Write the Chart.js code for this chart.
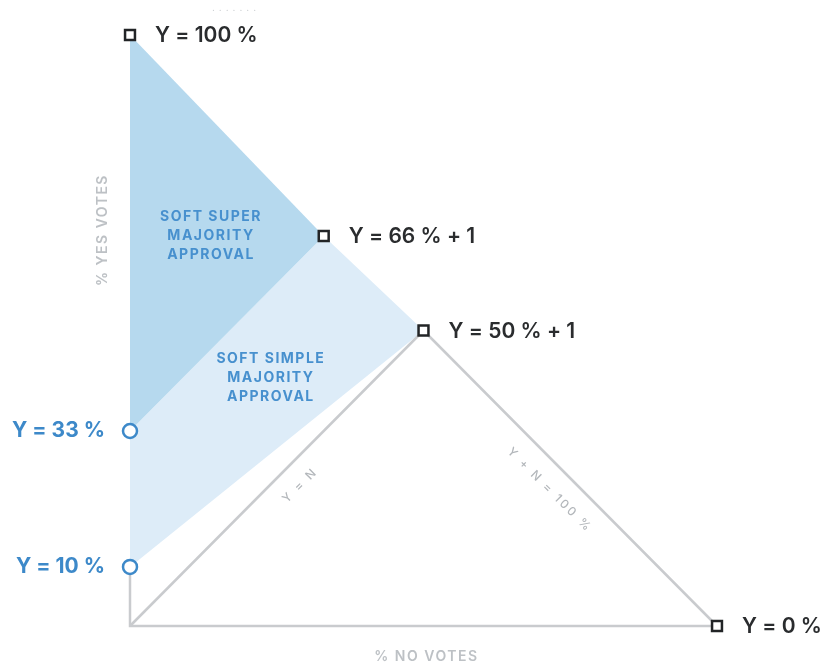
<!DOCTYPE html>
<html>
<head>
<meta charset="utf-8">
<script src="https://cdn.jsdelivr.net/npm/chart.js@4"></script>
<style>
  html, body { margin: 0; padding: 0; background: #fff; }
  #wrap { width: 823px; height: 664px; }
</style>
</head>
<body>
<div id="wrap"><canvas id="voteChart" width="823" height="664"></canvas></div>
<script>
// Threshold points on the Y + N = 100 % line
const thresholdLabels = ['Y = 100 %', 'Y = 66 % + 1', 'Y = 50 % + 1', 'Y = 0 %'];
const thresholdNo = [0, 33, 50, 100];
const thresholdYes = [100, 66, 50, 0];

// Quorum points on the Yes axis
const quorumLabels = ['Y = 33 %', 'Y = 10 %'];
const quorumNo = [0, 0];
const quorumYes = [33, 10];

// Shaded regions
const superRegionNo = [0, 33, 0];
const superRegionYes = [100, 66, 33];
const simpleRegionNo = [0, 33, 50, 0];
const simpleRegionYes = [33, 66, 50, 10];

// Guide lines
const equalLineNo = [0, 50];
const equalLineYes = [0, 50];
const totalLineNo = [50, 100];
const totalLineYes = [50, 0];
const axisLineNo = [0, 0, 100];
const axisLineYes = [10, 0, 0];

const regionLabels = [
  { lines: ['SOFT SUPER', 'MAJORITY', 'APPROVAL'], no: 13.8, yes: 66 },
  { lines: ['SOFT SIMPLE', 'MAJORITY', 'APPROVAL'], no: 24, yes: 42 }
];

const pts = (xs, ys) => xs.map((x, i) => ({ x: x, y: ys[i] }));

const labelPlugin = {
  id: 'labels',
  afterDatasetsDraw(chart) {
    const ctx = chart.ctx;
    const xs = chart.scales.x, ys = chart.scales.y;
    ctx.save();
    ctx.textBaseline = 'middle';

    // threshold labels
    ctx.fillStyle = '#2a2c2e';
    ctx.font = '600 21px Inter';
    ctx.textAlign = 'left';
    thresholdLabels.forEach((t, i) => {
      ctx.fillText(t, xs.getPixelForValue(thresholdNo[i]) + 25, ys.getPixelForValue(thresholdYes[i]) + 1);
    });

    // quorum labels
    ctx.fillStyle = '#3d89c9';
    ctx.font = '700 21px Inter';
    ctx.textAlign = 'right';
    quorumLabels.forEach((t, i) => {
      ctx.fillText(t, xs.getPixelForValue(quorumNo[i]) - 25, ys.getPixelForValue(quorumYes[i]));
    });

    // region labels
    ctx.fillStyle = '#4790ce';
    ctx.font = '700 14px Inter';
    ctx.letterSpacing = '1.5px';
    ctx.textAlign = 'center';
    regionLabels.forEach(r => {
      const cx = xs.getPixelForValue(r.no), cy = ys.getPixelForValue(r.yes);
      r.lines.forEach((l, j) => ctx.fillText(l, cx, cy + (j - 1) * 19));
    });

    // guide line labels
    ctx.fillStyle = '#b3b7bb';
    ctx.font = '500 12px Inter';
    ctx.letterSpacing = '2.5px';
    ctx.save();
    ctx.translate(xs.getPixelForValue(29), ys.getPixelForValue(23.8));
    ctx.rotate(-Math.PI / 4);
    ctx.fillText('Y = N', 0, 0);
    ctx.restore();
    ctx.save();
    ctx.translate(xs.getPixelForValue(71.5), ys.getPixelForValue(23));
    ctx.rotate(Math.PI / 4);
    ctx.fillText('Y + N = 100 %', 0, 0);
    ctx.restore();

    // axis titles
    ctx.fillStyle = '#bdc1c5';
    ctx.font = '600 14px Inter';
    ctx.letterSpacing = '1.5px';
    ctx.fillText('% NO VOTES', xs.getPixelForValue(50.5), 657);
    ctx.save();
    ctx.translate(103, ys.getPixelForValue(67));
    ctx.rotate(-Math.PI / 2);
    ctx.fillText('% YES VOTES', 0, 0);
    ctx.restore();

    // faint dots at the top
    ctx.fillStyle = '#c8cbce';
    ctx.font = '10px Inter';
    ctx.letterSpacing = '4px';
    ctx.fillText('.......', 236, 8);
    ctx.restore();
  }
};

new Chart(document.getElementById('voteChart'), {
  type: 'scatter',
  data: {
    datasets: [
      {
        label: 'Thresholds',
        data: pts(thresholdNo, thresholdYes),
        pointStyle: 'rect',
        pointRadius: 7,
        pointBorderWidth: 2.5,
        pointBackgroundColor: '#ffffff',
        pointBorderColor: '#222426',
        showLine: false,
        order: 0
      },
      {
        label: 'Quorums',
        data: pts(quorumNo, quorumYes),
        pointStyle: 'circle',
        pointRadius: 7,
        pointBorderWidth: 2.5,
        pointBackgroundColor: '#ffffff',
        pointBorderColor: '#3d89c9',
        showLine: false,
        order: 0
      },
      {
        label: 'Y = N',
        data: pts(equalLineNo, equalLineYes),
        showLine: true,
        borderColor: '#c9cbce',
        borderWidth: 2.5,
        pointRadius: 0,
        order: 1
      },
      {
        label: 'Y + N = 100 %',
        data: pts(totalLineNo, totalLineYes),
        showLine: true,
        borderColor: '#c9cbce',
        borderWidth: 2.5,
        pointRadius: 0,
        order: 1
      },
      {
        label: 'Axes',
        data: pts(axisLineNo, axisLineYes),
        showLine: true,
        borderColor: '#c9cbce',
        borderWidth: 2.5,
        pointRadius: 0,
        order: 1
      },
      {
        label: 'Soft super majority',
        data: pts(superRegionNo, superRegionYes),
        showLine: true,
        fill: 'shape',
        backgroundColor: '#b6d9ee',
        borderWidth: 0,
        borderColor: 'rgba(0,0,0,0)',
        pointRadius: 0,
        order: 2
      },
      {
        label: 'Soft simple majority',
        data: pts(simpleRegionNo, simpleRegionYes),
        showLine: true,
        fill: 'shape',
        backgroundColor: '#ddecf8',
        borderWidth: 0,
        borderColor: 'rgba(0,0,0,0)',
        pointRadius: 0,
        order: 3
      }
    ]
  },
  options: {
    responsive: false,
    animation: false,
    clip: false,
    layout: { padding: { left: 130, right: 106, top: 35, bottom: 38 } },
    scales: {
      x: { display: false, min: 0, max: 100 },
      y: { display: false, min: 0, max: 100 }
    },
    plugins: {
      legend: { display: false },
      tooltip: { enabled: false }
    }
  },
  plugins: [labelPlugin]
});
</script>
</body>
</html>
